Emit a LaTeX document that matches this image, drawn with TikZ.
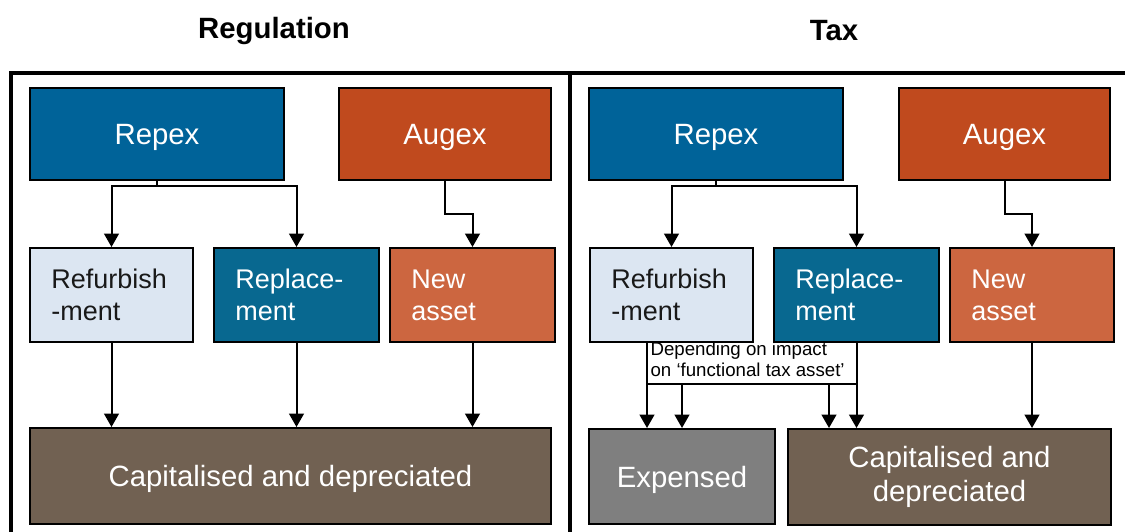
\documentclass[tikz,border=0pt]{standalone}
\usepackage{fontspec}
\setmainfont{Liberation Sans}
\usetikzlibrary{arrows.meta}

\definecolor{repexblue}{RGB}{0,99,153}
\definecolor{augexorange}{RGB}{192,74,30}
\definecolor{replblue}{RGB}{8,104,144}
\definecolor{newasset}{RGB}{204,102,64}
\definecolor{refurb}{RGB}{220,230,242}
\definecolor{capbrown}{RGB}{113,97,82}
\definecolor{expgray}{RGB}{127,127,127}

\tikzset{
  box/.style={draw=black, line width=1.5pt, inner sep=0pt, text=white},
  topbox/.style={box, minimum height=69pt, text depth=0pt, font=\fontsize{22}{26}\selectfont},
  midbox/.style={box, minimum height=70.5pt, inner xsep=16pt, align=left,
                 font=\fontsize{20.25}{24}\selectfont},
  botbox/.style={box, minimum height=72pt, align=center,
                 font=\fontsize{22}{25.5}\selectfont},
  title/.style={font=\bfseries\fontsize{22}{26}\selectfont},
  frame/.style={line width=2.4pt},
  arr/.style={line width=1.5pt, -{Triangle[width=11pt,length=10pt]}},
  ln/.style={line width=1.5pt},
}

\begin{document}
\begin{tikzpicture}[x=0.75pt, y=-0.75pt]
\useasboundingbox (0,0) rectangle (1125,532);

% panel headings
\node[title] (tReg) at (274,30.5) {Regulation};
\node[title] (tTax) at (834,30.5) {Tax};

% panel frames
\draw[frame] (11,532) -- (11,73) -- (1125,73);
\draw[frame] (570,73) -- (570,532);

% ---------------- Regulation ----------------
\node[topbox, fill=repexblue, minimum width=190.5pt] (repL) at (157,134) {Repex};
\node[topbox, fill=augexorange, minimum width=159pt] (augL) at (445,134) {Augex};

\node[midbox, fill=refurb, text=black!90, minimum width=122.25pt, text width=90.25pt]
  (refL) at (111.5,295) {Refurbish\\-ment};
\node[midbox, fill=replblue, minimum width=123.75pt, text width=91.75pt]
  (repcL) at (296.5,295) {Replace-\\ment};
\node[midbox, fill=newasset, minimum width=123.75pt, text width=91.75pt]
  (newL) at (472.5,295) {New\\asset};

\node[botbox, fill=capbrown, minimum width=390.75pt, text depth=0pt] (capL) at (290.5,476) {Capitalised and depreciated};

\coordinate (splitL) at (157,186);
\coordinate (bendL) at (445,214);
\draw[ln] (repL.south) -- (splitL);
\draw[arr] (splitL) -| (refL.north);
\draw[arr] (splitL) -| (repcL.north);
\draw[arr] (augL.south) |- (bendL) -| (newL.north);

\draw[arr] (refL.south) -- (refL.south |- capL.north);
\draw[arr] (repcL.south) -- (repcL.south |- capL.north);
\draw[arr] (newL.south) -- (newL.south |- capL.north);

% ---------------- Tax ----------------
\node[topbox, fill=repexblue, minimum width=190.5pt] (repR) at (716,134) {Repex};
\node[topbox, fill=augexorange, minimum width=158.25pt] (augR) at (1004.5,134) {Augex};

\node[midbox, fill=refurb, text=black!90, minimum width=122.25pt, text width=90.25pt]
  (refR) at (671.5,295) {Refurbish\\-ment};
\node[midbox, fill=replblue, minimum width=123.75pt, text width=91.75pt]
  (repcR) at (856.5,295) {Replace-\\ment};
\node[midbox, fill=newasset, minimum width=123pt, text width=91pt]
  (newR) at (1032,295) {New\\asset};

\node[botbox, fill=expgray, minimum width=139pt, minimum height=71.25pt, text depth=0pt] (expR) at (682,476.5) {Expensed};
\node[botbox, fill=capbrown, minimum width=242.25pt] (capR) at (949.5,477) {Capitalised and\\depreciated};

\coordinate (splitR) at (716,186);
\coordinate (bendR) at (1004.5,214);
\draw[ln] (repR.south) -- (splitR);
\draw[arr] (splitR) -| (refR.north);
\draw[arr] (splitR) -| (repcR.north);
\draw[arr] (augR.south) |- (bendR) -| (newR.north);

% split of refurbishment / replacement between expensing and capitalising
\coordinate (jL) at (647,384);
\coordinate (jR) at (856.5,384);
\coordinate (jE) at (682,384);
\coordinate (jC) at (829,384);
\draw[ln] (jL) -- (jR);
\draw[arr] (refR.south -| jL) -- (expR.north -| jL);
\draw[arr] (repcR.south) -- (capR.north -| jR);
\draw[arr] (jE) -- (expR.north -| jE);
\draw[arr] (jC) -- (capR.north -| jC);
\draw[arr] (newR.south) -- (capR.north -| newR.south);

\node[anchor=north west, inner sep=1pt, align=left, font=\fontsize{14}{15.5}\selectfont]
  (note) at (649,340.5) {Depending on impact\\on `functional tax asset'};
\end{tikzpicture}
\end{document}
